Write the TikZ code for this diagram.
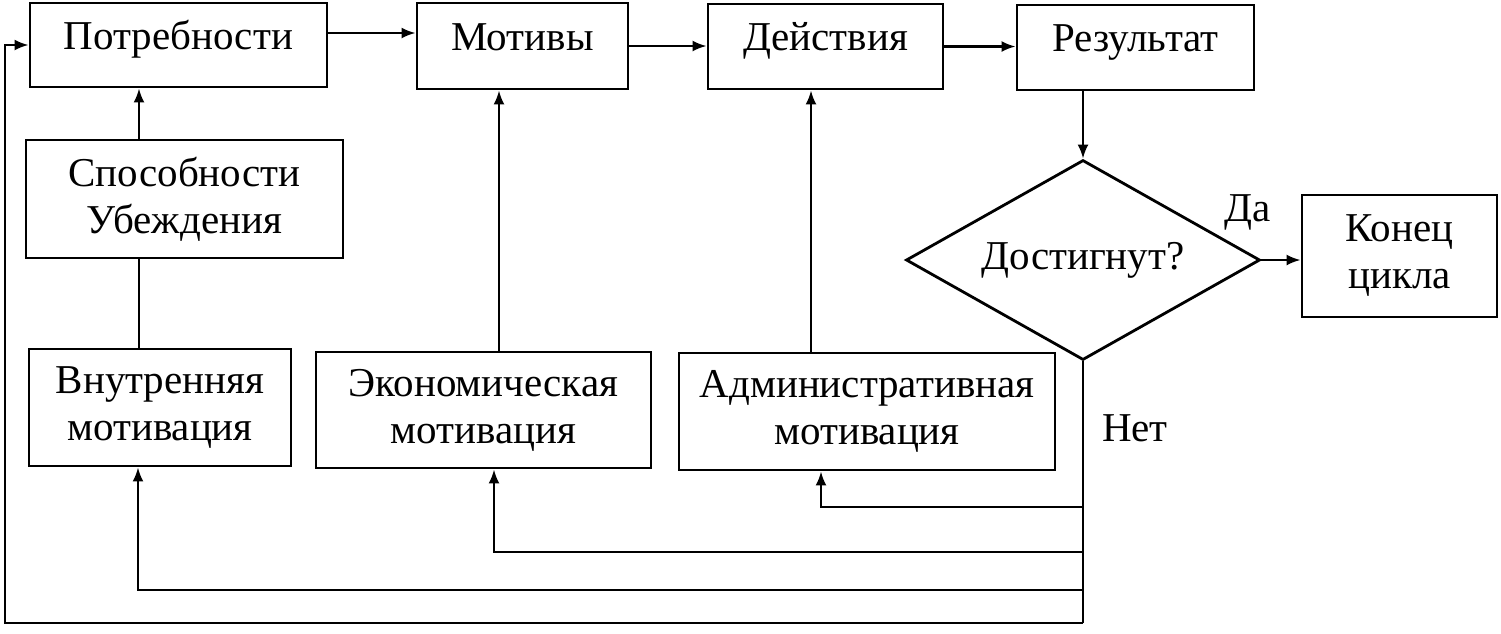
\documentclass[tikz,border=0pt]{standalone}
\usepackage{fontspec}
\setmainfont{Liberation Serif}
\usetikzlibrary{arrows.meta,shapes.geometric}
\begin{document}
\begin{tikzpicture}[x=1pt,y=-1pt,
  txt/.style={font=\fontsize{41}{47}\selectfont},
  box/.style={draw, rectangle, line width=2.8pt, align=center, inner sep=0pt, txt},
  onel/.style={text height=30pt, text depth=22pt},
  dec/.style={draw, diamond, line width=2.8pt, align=center, inner sep=0pt, aspect=1.77, txt},
  conn/.style={line width=2.4pt},
  arr/.style={conn, -{Latex[length=14pt,width=11pt]}}]
\useasboundingbox (0,0) rectangle (1501,633);
\fill[white] (0,0) rectangle (1501,633);
% top row
\node[box, onel, minimum width=297pt, minimum height=84pt] (potr) at (178.5,45) {Потребности};
\node[box, onel, minimum width=211pt, minimum height=86pt] (motiv) at (522.5,46) {Мотивы};
\node[box, onel, minimum width=235pt, minimum height=85pt] (deist) at (825.5,46.5) {Действия};
\node[box, onel, minimum width=237pt, minimum height=85pt] (rez) at (1135.5,47.5) {Результат};
% middle
\node[box, minimum width=317pt, minimum height=118pt] (sposob) at (184.5,199) {Способности\\Убеждения};
\node[dec, minimum width=354pt, minimum height=200pt] (dia) at (1083,260) {Достигнут?};
\node[box, minimum width=195pt, minimum height=122pt] (kon) at (1399.5,256) {Конец\\цикла};
% bottom row
\node[box, minimum width=262pt, minimum height=117pt] (vnutr) at (160,407.5) {Внутренняя\\мотивация};
\node[box, minimum width=335pt, minimum height=116pt] (econ) at (483.5,410) {Экономическая\\мотивация};
\node[box, minimum width=376pt, minimum height=117pt] (adm) at (867,411.5) {Административная\\мотивация};
% labels
\node[txt, inner sep=0pt] (da) at (1248,212) {Да};
\node[txt, inner sep=0pt] (net) at (1135,428) {Нет};
% helper coordinates
\coordinate (c1) at (139,0);
\coordinate (c2) at (499,0);
\coordinate (c3) at (811,0);
\coordinate (yA) at (0,507);
\coordinate (xA) at (821,0);
\coordinate (yE) at (0,552);
\coordinate (xE) at (494,0);
\coordinate (yV) at (0,590);
\coordinate (xV) at (138,0);
\coordinate (yP) at (0,623);
\coordinate (xP) at (5,0);
% top-row arrows
\draw[arr] ([yshift=12pt]potr.east) -- ([yshift=12pt]potr.east -| motiv.west);
\draw[arr] (motiv.east) -- (motiv.east -| deist.west);
\draw[arr] (deist.east) -- (deist.east -| rez.west);
\draw[arr] (dia.north |- rez.south) -- (dia.north);
\draw[arr] (dia.east) -- (dia.east -| kon.west);
% vertical links
\draw[conn] (vnutr.north -| c1) -- (sposob.south -| c1);
\draw[arr] (sposob.north -| c1) -- (potr.south -| c1);
\draw[arr] (econ.north -| c2) -- (motiv.south -| c2);
\draw[arr] (adm.north -| c3) -- (deist.south -| c3);
% feedback
\draw[conn] (dia.south) -- (dia.south |- yP);
\draw[arr] (dia.south |- yA) -- (xA |- yA) -- (adm.south -| xA);
\draw[arr] (dia.south |- yE) -- (xE |- yE) -- (econ.south -| xE);
\draw[arr] (dia.south |- yV) -- (xV |- yV) -- (vnutr.south -| xV);
\draw[arr] (dia.south |- yP) -- (xP |- yP) -- (xP |- potr.west) -- (potr.west);
\end{tikzpicture}
\end{document}
